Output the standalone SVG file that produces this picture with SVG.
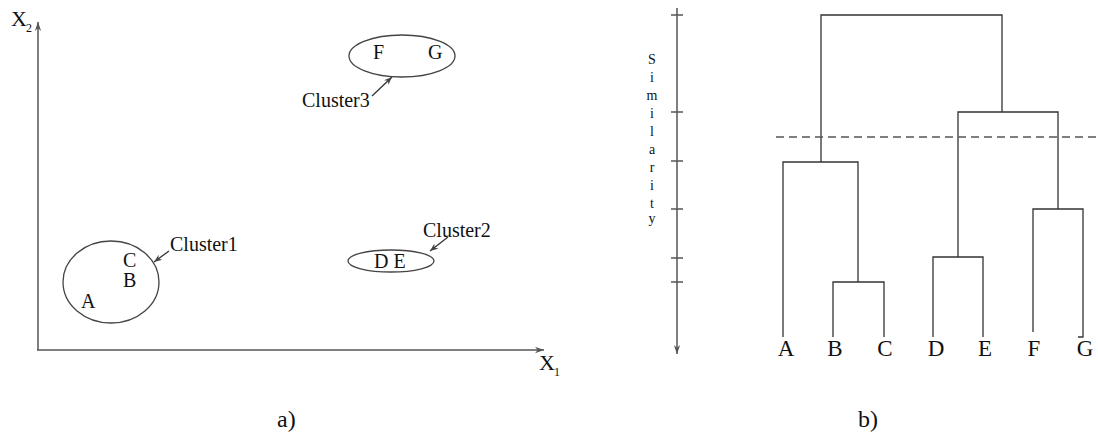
<svg xmlns="http://www.w3.org/2000/svg" width="1098" height="434" viewBox="0 0 1098 434">
<defs>
<marker id="ah" viewBox="0 0 10 10" refX="10" refY="5" markerWidth="8" markerHeight="8" markerUnits="userSpaceOnUse" orient="auto">
<path d="M0,1 L10,5 L0,9 L3,5 Z" fill="#444"/>
</marker>
<marker id="ahs" viewBox="0 0 10 10" refX="10" refY="5" markerWidth="9" markerHeight="9" markerUnits="userSpaceOnUse" orient="auto">
<path d="M0,1.5 L10,5 L0,8.5 L3,5 Z" fill="#555"/>
</marker>
</defs>
<style>
text{font-family:"Liberation Serif","Times New Roman",serif;fill:#111}
.ax{stroke:#555;stroke-width:1.5;fill:none}
.ln{stroke:#333;stroke-width:1.3;fill:none}
.el{stroke:#444;stroke-width:1.3;fill:none}
.lbl{font-size:20px}
.cl{font-size:20px}
.dl{font-size:23px;text-anchor:middle}
.sim{font-size:14px;text-anchor:middle}
</style>
<rect width="1098" height="434" fill="#fff"/>
<g id="panel-a-axes">
<line class="ax" x1="38" y1="350" x2="38" y2="22" marker-end="url(#ahs)"/>
<line class="ax" x1="37" y1="350" x2="544" y2="350" marker-end="url(#ahs)"/>
<text x="11" y="26" font-size="22">X</text><text x="26" y="32" font-size="12">2</text>
<text x="539" y="370" font-size="22">X</text><text x="554" y="376" font-size="12">1</text>
</g>
<g id="cluster1">
<ellipse class="el" cx="111" cy="282" rx="48" ry="41"/>
<text class="lbl" x="123" y="267">C</text>
<text class="lbl" x="123" y="287">B</text>
<text class="lbl" x="81" y="308">A</text>
<text class="cl" x="170" y="251">Cluster1</text>
</g>
<g id="cluster2">
<ellipse class="el" cx="391" cy="261" rx="43" ry="11"/>
<text class="lbl" x="374" y="268">D E</text>
<text class="cl" x="423" y="237">Cluster2</text>
</g>
<g id="cluster3">
<ellipse class="el" cx="402" cy="56" rx="53" ry="21"/>
<text class="lbl" x="373" y="59">F</text>
<text class="lbl" x="428" y="59">G</text>
<text class="cl" x="302" y="107">Cluster3</text>
</g>
<g id="connectors">
<line class="ln" x1="169" y1="251" x2="154" y2="262" marker-end="url(#ah)"/>
<line class="ln" x1="448" y1="237" x2="430" y2="251" marker-end="url(#ah)"/>
<line class="ln" x1="372" y1="96" x2="392" y2="77" marker-end="url(#ah)"/>
</g>
<g id="similarity-axis">
<line class="ax" x1="677" y1="8" x2="677" y2="354" marker-end="url(#ahs)"/>
<g class="ax">
<line x1="671" y1="15" x2="683" y2="15"/>
<line x1="671" y1="112" x2="683" y2="112"/>
<line x1="671" y1="161" x2="683" y2="161"/>
<line x1="671" y1="209" x2="683" y2="209"/>
<line x1="671" y1="258" x2="683" y2="258"/>
<line x1="671" y1="282" x2="683" y2="282"/>
</g>
<text class="sim" x="652" y="64">S</text>
<text class="sim" x="652" y="82">i</text>
<text class="sim" x="652" y="100">m</text>
<text class="sim" x="652" y="118">i</text>
<text class="sim" x="652" y="136">l</text>
<text class="sim" x="652" y="154">a</text>
<text class="sim" x="652" y="172">r</text>
<text class="sim" x="652" y="190">i</text>
<text class="sim" x="652" y="208">t</text>
<text class="sim" x="652" y="223">y</text>
</g>
<g id="dendrogram">
<path class="ln" d="M821,162 V15 H1002 V112"/>
<path class="ln" d="M958,257 V112 H1058 V209"/>
<path class="ln" d="M783,337 V162 H858 V282"/>
<path class="ln" d="M833,337 V282 H884 V337"/>
<path class="ln" d="M933,337 V257 H983 V337"/>
<path class="ln" d="M1033,332 V209 H1083 V337 H1078"/>
<line x1="776" y1="137" x2="1098" y2="137" stroke="#555" stroke-width="1.3" stroke-dasharray="8,5"/>
</g>
<g id="leaf-labels">
<text class="dl" x="786" y="356">A</text>
<text class="dl" x="835" y="356">B</text>
<text class="dl" x="885" y="356">C</text>
<text class="dl" x="936" y="356">D</text>
<text class="dl" x="985" y="356">E</text>
<text class="dl" x="1034" y="356">F</text>
<text class="dl" x="1085" y="356">G</text>
</g>
<g id="captions">
<text x="277" y="427" font-size="24">a)</text>
<text x="858" y="427" font-size="24">b)</text>
</g>
</svg>
